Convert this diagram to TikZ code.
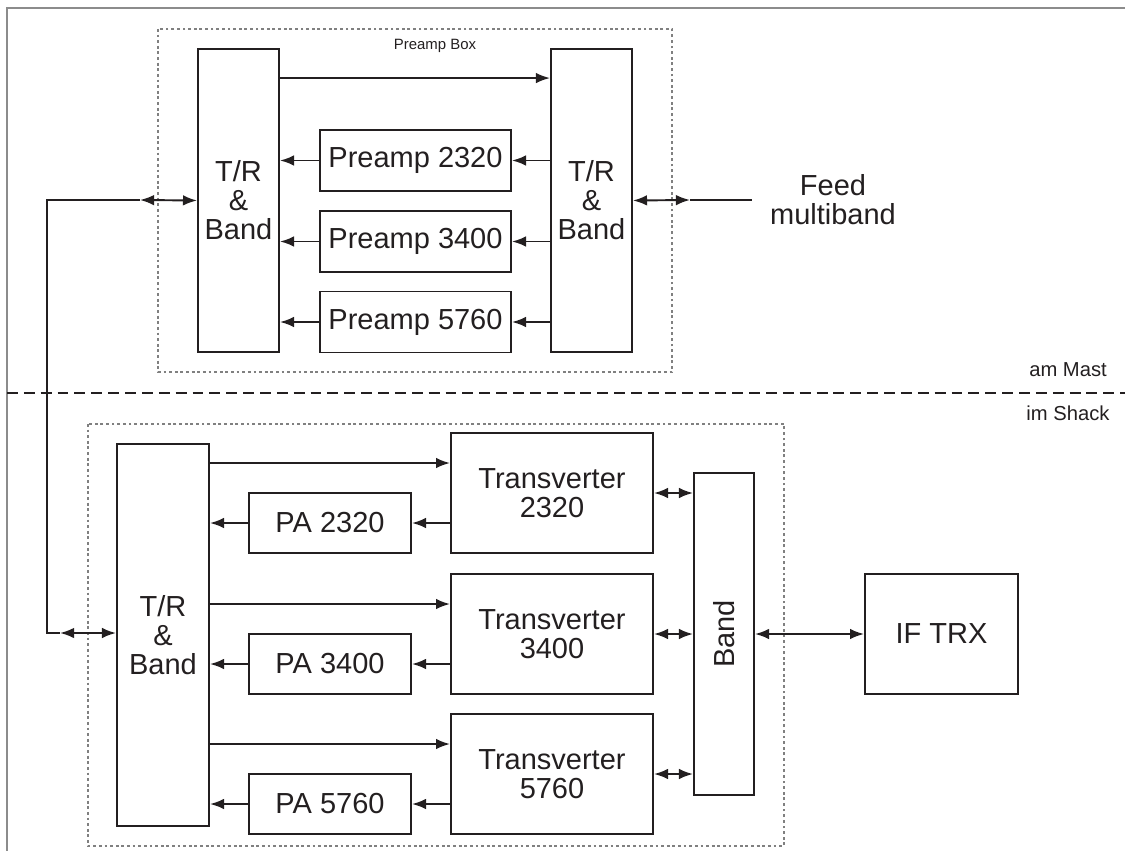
\documentclass[tikz,border=0pt]{standalone}
\usepackage{fontspec}
\setmainfont{Liberation Sans}
\usetikzlibrary{arrows.meta}
\definecolor{frame-gray}{HTML}{8C8C8C}
\definecolor{line-dark}{HTML}{231F20}

\begin{document}
\begin{tikzpicture}[x=0.02cm, y=-0.02cm,
    every node/.style={font=\fontsize{16.5}{16.5}\selectfont, text=line-dark},
    box/.style={draw=line-dark, line width=1.1pt, align=center, inner sep=0pt},
    link/.style={draw=line-dark, line width=1.1pt},
    tip/.style={-{Latex[length=8pt,width=6pt]}},
    biway/.style={{Latex[length=8pt,width=6pt]}-{Latex[length=8pt,width=6pt]}},
    encl/.style={draw=gray, line width=0.7pt, dash pattern=on 1.6pt off 1.6pt},
    small/.style={font=\fontsize{8.5}{10}\selectfont},
    side/.style={font=\fontsize{11.5}{13}\selectfont}]
    \useasboundingbox (0,0) rectangle (1125,851);
    % outer frame
    \draw[frame-gray, line width=1pt] (1125,8) -- (7,8) -- (7,851);

    % mast part
    \draw[encl] (158,29) rectangle (672,372);
    \node[small] (boxlbl) at (435,46) {Preamp Box};
    \node[box, minimum width=1.62cm, minimum height=6.06cm] (trl) at (238.5,200.5)
      {T/R\\\&\\Band};
    \node[box, minimum width=1.62cm, minimum height=6.06cm] (trr) at (591.5,200.5)
      {T/R\\\&\\Band};
    \node[box, minimum width=3.82cm, minimum height=1.22cm] (pre1) at (415.5,160.5)
      {Preamp 2320};
    \node[box, minimum width=3.82cm, minimum height=1.22cm] (pre2) at (415.5,241.5)
      {Preamp 3400};
    \node[box, minimum width=3.82cm, minimum height=1.22cm] (pre3) at (415.5,322)
      {Preamp 5760};
    \node[align=center] (feed) at (833,200) {Feed\\multiband};
    \draw[link, tip] ([yshift=-0.6cm]trl.north east) -- ([yshift=-0.6cm]trr.north west);
    \foreach \i in {1,2,3} {
      \draw[link, tip] (trr.west |- pre\i.east) -- (pre\i.east);
      \draw[link, tip] (pre\i.west) -- (trl.east |- pre\i.west);
    }
    \coordinate (feedmid) at (690,200);
    \coordinate (feedend) at (752,200);
    \draw[link, biway] (trr.east) -- (feedmid);
    \draw[link] (feedmid) -- (feedend);

    % separation mast / shack
    \draw[line-dark, line width=0.8pt, dash pattern=on 6.2pt off 3.4pt] (7,393) -- (1125,393);
    \node[side] (mast) at (1068,370) {am Mast};
    \node[side] (shack) at (1068,413) {im Shack};

    % shack part
    \draw[encl] (88,424) rectangle (784,846);
    \node[box, minimum width=1.84cm, minimum height=7.64cm] (ltr) at (163,635)
      {T/R\\\&\\Band};
    \foreach \i/\f/\y in {1/2320/493, 2/3400/634, 3/5760/774} {
      \node[box, minimum width=4.04cm, minimum height=2.4cm] (tv\i) at (552,\y)
        {Transverter\\\f};
      \node[box, minimum width=3.24cm, minimum height=1.2cm] (pa\i) at (330,\y+30)
        {PA \f};
    }
    \node[box, minimum width=1.2cm, minimum height=6.44cm] (band) at (724,634)
      {\rotatebox{90}{Band}};
    \node[box, minimum width=3.06cm, minimum height=2.4cm] (iftrx) at (941.5,634)
      {IF TRX};
    \foreach \i in {1,2,3} {
      \path ([yshift=0.6cm]tv\i.west) coordinate (in\i);
      \draw[link, tip] (ltr.east |- in\i) -- (in\i);
      \draw[link, tip] (tv\i.west |- pa\i.east) -- (pa\i.east);
      \draw[link, tip] (pa\i.west) -- (ltr.east |- pa\i.west);
      \draw[link, biway] (tv\i.east) -- (band.west |- tv\i.east);
    }
    \draw[link, biway] (band.east |- iftrx.west) -- (iftrx.west);

    % feed line between the two parts
    \coordinate (upmid) at (140,200);
    \coordinate (upcorner) at (47,200);
    \coordinate (lowcorner) at (47,633);
    \coordinate (lowmid) at (60,633);
    \draw[link] (upmid) -- (upcorner) -- (lowcorner) -- (lowmid);
    \draw[link, biway] (upmid) -- (trl.west);
    \draw[link, biway] (lowmid) -- (ltr.west |- lowmid);
\end{tikzpicture}
\end{document}
